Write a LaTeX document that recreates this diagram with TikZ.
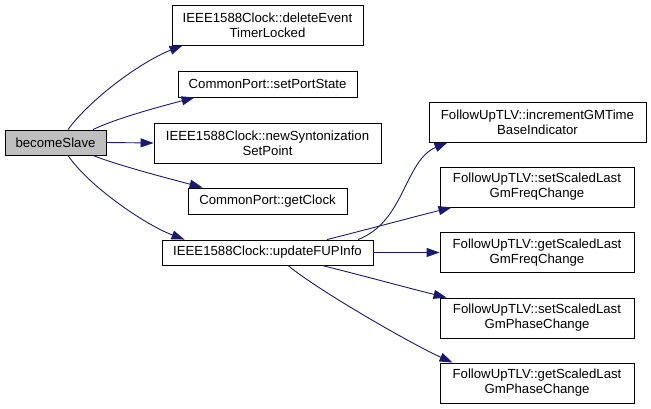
\documentclass[tikz,border=0pt]{standalone}
\usepackage{fontspec}
\setmainfont{Liberation Sans}
\usetikzlibrary{arrows.meta,calc}
\definecolor{edgec}{HTML}{191970}
\definecolor{grayfill}{HTML}{BFBFBF}
\begin{document}
\begin{tikzpicture}[x=1pt,y=-1pt,
  box/.style={draw=black, line width=0.9pt, fill=white, inner sep=0pt, align=center,
    font=\fontsize{13.2}{15}\selectfont},
  edge/.style={draw=edgec, line width=0.9pt, -{Triangle[length=13pt,width=9pt]}}]
\useasboundingbox (0,0) rectangle (651,409);
% nodes
\node[box, fill=grayfill, minimum width=101pt, minimum height=25pt] (bs) at (55.5,142.5) {becomeSlave};
\node[box, minimum width=191pt, minimum height=40pt] (del) at (267.5,25) {IEEE1588Clock::deleteEvent\\TimerLocked};
\node[box, minimum width=179pt, minimum height=26pt] (sps) at (267.5,84) {CommonPort::setPortState};
\node[box, minimum width=227pt, minimum height=40pt] (nsp) at (267.5,143) {IEEE1588Clock::newSyntonization\\SetPoint};
\node[box, minimum width=159pt, minimum height=26pt] (gcl) at (267.5,201) {CommonPort::getClock};
\node[box, minimum width=211pt, minimum height=25pt] (upd) at (267.5,252.5) {IEEE1588Clock::updateFUPInfo};
\node[box, minimum width=217pt, minimum height=40pt] (inc) at (537.5,122) {FollowUpTLV::incrementGMTime\\BaseIndicator};
\node[box, minimum width=194pt, minimum height=40pt] (ssf) at (537,187) {FollowUpTLV::setScaledLast\\GmFreqChange};
\node[box, minimum width=194pt, minimum height=40pt] (gsf) at (537,252.5) {FollowUpTLV::getScaledLast\\GmFreqChange};
\node[box, minimum width=194pt, minimum height=40pt] (ssp) at (537,318) {FollowUpTLV::setScaledLast\\GmPhaseChange};
\node[box, minimum width=194pt, minimum height=40pt] (gsp) at (537,383) {FollowUpTLV::getScaledLast\\GmPhaseChange};
% edges from becomeSlave
\draw[edge] ([xshift=12.5pt]bs.north) .. controls +(22,-30) and +(-43,17) .. ([xshift=11pt]del.south west);
\draw[edge] ([xshift=37.5pt]bs.north) .. controls +(25,-12) and +(-30,8) .. ([xshift=17pt]sps.south west);
\draw[edge] (bs.east) -- (nsp.west);
\draw[edge] ([xshift=37.5pt]bs.south) .. controls +(25,10) and +(-30,-8) .. ([xshift=15pt]gcl.north west);
\draw[edge] ([xshift=12.5pt]bs.south) .. controls +(20,30) and +(-40,-15) .. ([xshift=23pt]upd.north west);
% edges from updateFUPInfo
\draw[edge] ([xshift=90.5pt]upd.north) .. controls +(47,-18) and +(-43,18) .. ([xshift=19pt]inc.south west);
\draw[edge] ([xshift=59.5pt]upd.north) .. controls +(40,-10) and +(-40,10) .. ([xshift=12pt]ssf.south west);
\draw[edge] (upd.east) -- (gsf.west);
\draw[edge] ([xshift=54.5pt]upd.south) .. controls +(40,10) and +(-40,-10) .. ([xshift=7pt]ssp.north west);
\draw[edge] ([xshift=20.5pt]upd.south) .. controls +(30,25) and +(-40,-18) .. ([xshift=13pt]gsp.north west);
\end{tikzpicture}
\end{document}
